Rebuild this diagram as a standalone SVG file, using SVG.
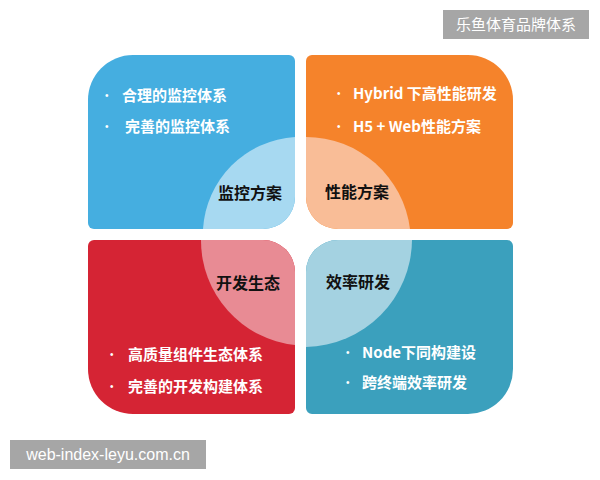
<svg xmlns="http://www.w3.org/2000/svg" width="600" height="480" viewBox="0 0 600 480">
<style>
.item{font-family:"Noto Sans CJK SC","Liberation Sans",sans-serif;font-weight:bold;font-size:15px;fill:#ffffff}
.dot{font-family:"Liberation Sans",sans-serif;font-size:10px;fill:#ffffff}
.label{font-family:"Noto Sans CJK SC","Liberation Sans",sans-serif;font-weight:bold;font-size:16px;fill:#111111}
.wm{font-family:"Noto Sans CJK SC","Liberation Sans",sans-serif;font-size:15px;fill:#ffffff}
</style>
<rect width="600" height="480" fill="#ffffff"/>
<g id="monitor">
<path d="M133 55H289A6 6 0 0 1 295 61V197A32 32 0 0 1 263 229H94A6 6 0 0 1 88 223V100A45 45 0 0 1 133 55Z" fill="#45AEE0"/>
<path d="M295 137V197A32 32 0 0 1 263 229H203A98 98 0 0 1 295 137Z" fill="#A7D9F1"/>
<text class="dot" x="105" y="99">•</text>
<text class="item" x="122" y="100.5">合理的监控体系</text>
<text class="dot" x="105" y="130">•</text>
<text class="item" x="125" y="131.5">完善的监控体系</text>
<text class="label" x="218" y="199">监控方案</text>
</g>
<g id="performance">
<path d="M312 55H468A45 45 0 0 1 513 100V223A6 6 0 0 1 507 229H338A32 32 0 0 1 306 197V61A6 6 0 0 1 312 55Z" fill="#F5832B"/>
<path d="M306 137A105 105 0 0 1 410 229H338A32 32 0 0 1 306 197Z" fill="#F9BD97"/>
<text class="dot" x="337" y="97">•</text>
<text class="item" x="353" y="98.5">Hybrid 下高性能研发</text>
<text class="dot" x="337" y="130">•</text>
<text class="item" x="353" y="131.5">H5 + Web性能方案</text>
<text class="label" x="325" y="198">性能方案</text>
</g>
<g id="ecosystem">
<path d="M94 240H263A32 32 0 0 1 295 272V408A6 6 0 0 1 289 414H133A45 45 0 0 1 88 369V246A6 6 0 0 1 94 240Z" fill="#D52434"/>
<path d="M201 240H263A32 32 0 0 1 295 272V345A105 105 0 0 1 201 240Z" fill="#E88B94"/>
<text class="label" x="216" y="289">开发生态</text>
<text class="dot" x="110" y="358">•</text>
<text class="item" x="128" y="359.5">高质量组件生态体系</text>
<text class="dot" x="110" y="390">•</text>
<text class="item" x="128" y="391.5">完善的开发构建体系</text>
</g>
<g id="efficiency">
<path d="M338 240H507A6 6 0 0 1 513 246V369A45 45 0 0 1 468 414H312A6 6 0 0 1 306 408V272A32 32 0 0 1 338 240Z" fill="#3BA0BD"/>
<path d="M412 240A108 108 0 0 1 306 347V272A32 32 0 0 1 338 240Z" fill="#A4D2E1"/>
<text class="label" x="326" y="288">效率研发</text>
<text class="dot" x="346" y="356">•</text>
<text class="item" x="362" y="357.5">Node下同构建设</text>
<text class="dot" x="346" y="386">•</text>
<text class="item" x="362" y="387.5">跨终端效率研发</text>
</g>
<g id="watermark-top">
<rect x="443" y="10" width="146" height="29" fill="#A6A6A6"/>
<text class="wm" x="516" y="30" text-anchor="middle" font-size="16">乐鱼体育品牌体系</text>
</g>
<g id="watermark-bottom">
<rect x="10" y="440" width="196" height="29" fill="#A6A6A6"/>
<text class="wm" x="108" y="460" text-anchor="middle" style="font-family:'Liberation Sans',sans-serif;font-size:16px">web-index-leyu.com.cn</text>
</g>
</svg>
